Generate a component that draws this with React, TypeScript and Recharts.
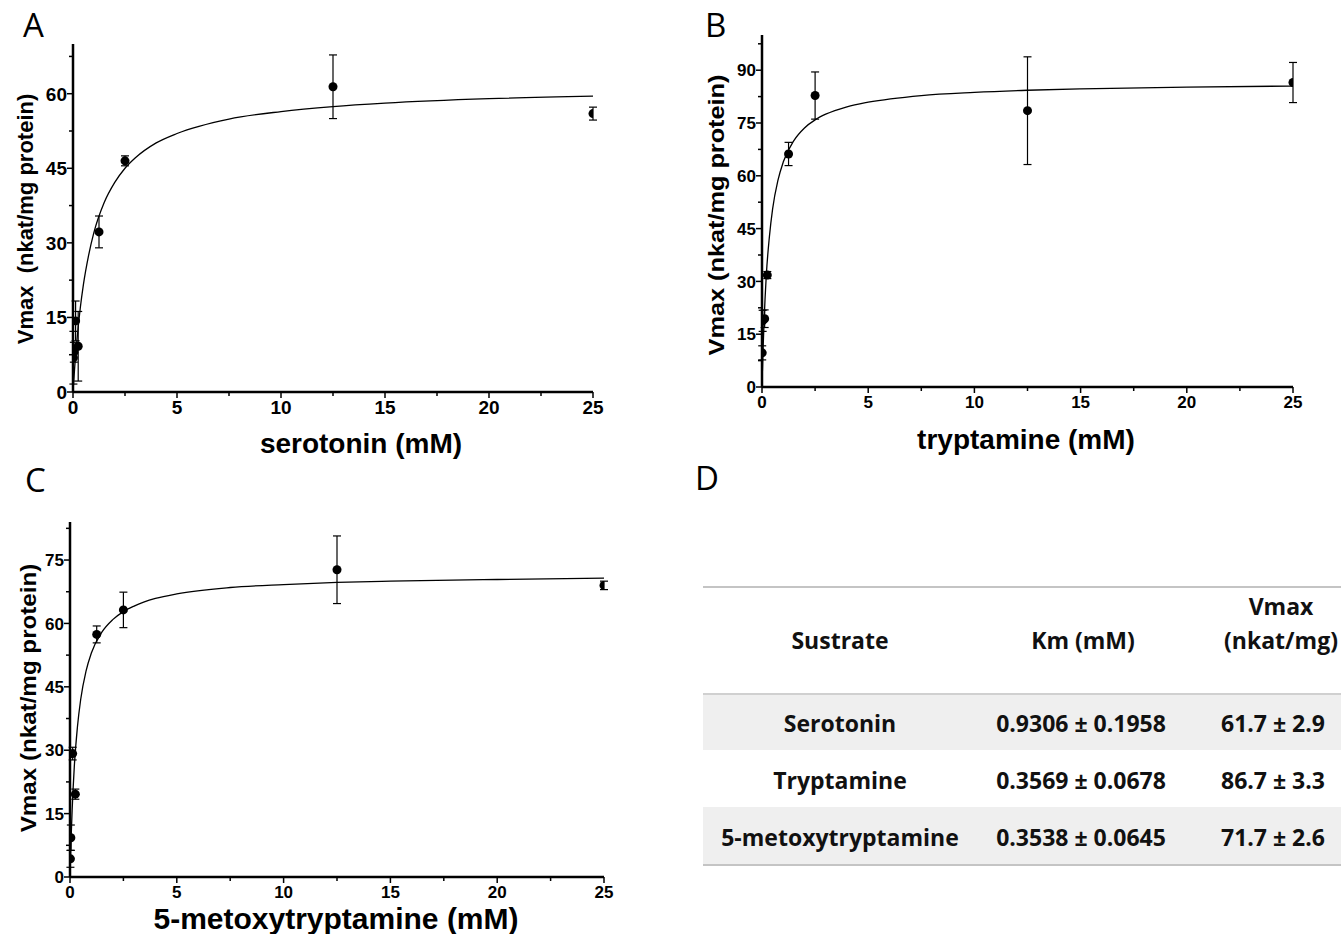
import React from "react";
import { ComposedChart, Scatter, Line, XAxis, YAxis, ErrorBar } from "recharts";

// measured points (mean and error)
const SER_X = [0.02, 0.04, 0.125, 0.25, 1.25, 2.5, 12.5, 25];
const SER_Y = [6.9, 8.0, 14.3, 9.2, 32.2, 46.5, 61.4, 56.0];
const SER_ERR = [5.3, 2.0, 4.0, 7.0, 3.2, 1.0, 6.4, 1.3];

const TRY_X = [0.01, 0.03, 0.125, 0.25, 1.25, 2.5, 12.5, 25];
const TRY_Y = [9.7, 18.8, 19.4, 31.8, 66.2, 82.8, 78.5, 86.5];
const TRY_ERR = [2.0, 3.0, 2.5, 1.0, 3.3, 6.7, 15.3, 5.7];

const MET_X = [0.02, 0.04, 0.125, 0.25, 1.25, 2.5, 12.5, 25];
const MET_Y = [4.3, 9.3, 29.2, 19.6, 57.4, 63.2, 72.7, 69.0];
const MET_ERR = [2.0, 3.0, 1.5, 1.2, 2.0, 4.2, 8.0, 1.0];

// fitted curves
const FIT_X = [0.02, 0.05, 0.1, 0.2, 0.35, 0.5, 0.75, 1, 1.5, 2, 2.5, 3, 4, 5, 7.5, 10, 12.5, 15, 20, 25];
const SER_FIT = [1.3, 3.1, 6.0, 10.9, 16.9, 21.6, 27.5, 32.0, 38.1, 42.1, 45.0, 47.1, 50.1, 52.0, 54.9, 56.4, 57.4, 58.1, 59.0, 59.5];
const TRY_FIT = [4.6, 10.7, 19.0, 31.5, 42.8, 50.6, 58.7, 63.9, 70.0, 73.6, 75.9, 77.5, 79.6, 80.9, 82.8, 83.7, 84.3, 84.7, 85.2, 85.5];
const MET_FIT = [3.8, 8.9, 15.8, 26.0, 35.6, 42.0, 48.7, 53.0, 58.0, 60.9, 62.8, 64.1, 65.9, 67.0, 68.5, 69.2, 69.7, 70.0, 70.4, 70.7];

const X_TICKS = [0, 2.5, 5, 7.5, 10, 12.5, 15, 17.5, 20, 22.5, 25];

const SUBSTRATES = ["Serotonin", "Tryptamine", "5-metoxytryptamine"];
const KM = ["0.9306 ± 0.1958", "0.3569 ± 0.0678", "0.3538 ± 0.0645"];
const VMAX = ["61.7 ± 2.9", "86.7 ± 3.3", "71.7 ± 2.6"];

const AX_FONT = "'Liberation Sans', Arial, sans-serif";
const TB_FONT = "'Open Sans', 'Noto Sans', sans-serif";

const toPoints = (xs: number[], ys: number[], errs: number[]) =>
  xs.map((x, i) => ({ x, y: ys[i], err: errs[i] }));
const toCurve = (xs: number[], ys: number[]) => xs.map((x, i) => ({ x, y: ys[i] }));

const Dot = (p: any) => <circle cx={p.cx} cy={p.cy} r={4.5} fill="#000" />;

type PanelProps = {
  left: number;
  top: number;
  width: number;
  height: number;
  margin: { top: number; right: number; left: number; bottom: number };
  yWidth: number;
  xHeight: number;
  yMax: number;
  yTicks: number[];
  fs: number;
  points: { x: number; y: number; err: number }[];
  curve: { x: number; y: number }[];
};

const Panel = (p: PanelProps) => {
  const xTick = (t: any) => {
    const v = t.payload.value;
    const major = v % 5 === 0;
    return (
      <g>
        <line x1={t.x} x2={t.x} y1={t.y} y2={t.y + (major ? 6 : 4)} stroke="#000" strokeWidth={1.5} />
        {major && (
          <text x={t.x} y={t.y + 7} dy="0.8em" textAnchor="middle" fontSize={p.fs} fontWeight="bold" fontFamily={AX_FONT} fill="#000">
            {v}
          </text>
        )}
      </g>
    );
  };
  const yTick = (t: any) => {
    const v = t.payload.value;
    const major = v % 15 === 0;
    return (
      <g>
        <line x1={t.x} x2={t.x - (major ? 6 : 4)} y1={t.y} y2={t.y} stroke="#000" strokeWidth={1.5} />
        {major && (
          <text x={t.x - 6} y={t.y} dy="0.36em" textAnchor="end" fontSize={p.fs} fontWeight="bold" fontFamily={AX_FONT} fill="#000">
            {v}
          </text>
        )}
      </g>
    );
  };
  return (
    <div style={{ position: "absolute", left: p.left, top: p.top }}>
      <ComposedChart width={p.width} height={p.height} margin={p.margin}>
        <XAxis
          type="number"
          dataKey="x"
          domain={[0, 25]}
          ticks={X_TICKS}
          interval={0}
          allowDataOverflow
          height={p.xHeight}
          tickSize={0}
          tickMargin={0}
          tickLine={false}
          axisLine={{ stroke: "#000", strokeWidth: 2.5 }}
          tick={xTick}
        />
        <YAxis
          type="number"
          domain={[0, p.yMax]}
          ticks={p.yTicks}
          interval={0}
          allowDataOverflow
          width={p.yWidth}
          tickSize={0}
          tickMargin={0}
          tickLine={false}
          axisLine={{ stroke: "#000", strokeWidth: 2.5 }}
          tick={yTick}
        />
        <Line
          data={p.curve}
          dataKey="y"
          type="monotone"
          stroke="#000"
          strokeWidth={1.3}
          dot={false}
          activeDot={false}
          isAnimationActive={false}
        />
        <Scatter data={p.points} dataKey="y" shape={Dot} isAnimationActive={false}>
          <ErrorBar dataKey="err" direction="y" width={4} stroke="#000" strokeWidth={1.2} />
        </Scatter>
      </ComposedChart>
    </div>
  );
};

const range = (step: number, max: number) => {
  const out: number[] = [];
  for (let i = 0; i * step <= max + 1e-9; i++) out.push(i * step);
  return out;
};

export default function App() {
  const titleStyle = { fontFamily: AX_FONT, fontWeight: "bold" as const, fill: "#000" };
  const letterStyle = { fontFamily: TB_FONT, fontSize: 33, fill: "#000" };
  const rowTops = [107, 164, 221];
  return (
    <div style={{ position: "absolute", left: 0, top: 0, width: 1341, height: 934, background: "#fff", overflow: "hidden" }}>
      <Panel
        left={0}
        top={0}
        width={640}
        height={440}
        margin={{ top: 44, right: 47, left: 0, bottom: 0 }}
        yWidth={73}
        xHeight={48}
        yMax={70}
        yTicks={range(7.5, 67.5)}
        fs={19}
        points={toPoints(SER_X, SER_Y, SER_ERR)}
        curve={toCurve(FIT_X, SER_FIT)}
      />
      <Panel
        left={690}
        top={0}
        width={640}
        height={440}
        margin={{ top: 35, right: 37, left: 0, bottom: 0 }}
        yWidth={72}
        xHeight={53}
        yMax={100}
        yTicks={range(7.5, 97.5)}
        fs={17}
        points={toPoints(TRY_X, TRY_Y, TRY_ERR)}
        curve={toCurve(FIT_X, TRY_FIT)}
      />
      <Panel
        left={0}
        top={470}
        width={640}
        height={440}
        margin={{ top: 52, right: 36, left: 0, bottom: 0 }}
        yWidth={70}
        xHeight={33}
        yMax={84}
        yTicks={range(7.5, 82.5)}
        fs={17}
        points={toPoints(MET_X, MET_Y, MET_ERR)}
        curve={toCurve(FIT_X, MET_FIT)}
      />

      {/* table D */}
      <div style={{ position: "absolute", left: 703, top: 586, width: 638, height: 279, fontFamily: TB_FONT, fontWeight: 700, fontSize: 23, color: "#111" }}>
        <div style={{ position: "absolute", left: 0, top: 0, width: 638, borderTop: "2px solid #c4c4c4" }} />
        {rowTops.map((t, i) => (
          <div key={i} style={{ position: "absolute", left: 0, top: t, width: 638, height: 57, background: i % 2 === 0 ? "#efefef" : "#fff", borderTop: i === 0 ? "2px solid #d0d0d0" : "none" }} />
        ))}
        <div style={{ position: "absolute", left: 0, top: 278, width: 638, borderTop: "2px solid #c4c4c4" }} />
        <div style={{ position: "absolute", left: 137, top: 54, transform: "translate(-50%,-50%)", whiteSpace: "nowrap" }}>Sustrate</div>
        <div style={{ position: "absolute", left: 380, top: 54, transform: "translate(-50%,-50%)", whiteSpace: "nowrap" }}>Km (mM)</div>
        <div style={{ position: "absolute", left: 578, top: 37, transform: "translate(-50%,-50%)", textAlign: "center", lineHeight: "34px", whiteSpace: "nowrap" }}>
          Vmax
          <br />
          (nkat/mg)
        </div>
        {SUBSTRATES.map((s, i) => (
          <React.Fragment key={s}>
            <div style={{ position: "absolute", left: 137, top: rowTops[i] + 30, transform: "translate(-50%,-50%)", whiteSpace: "nowrap" }}>{s}</div>
            <div style={{ position: "absolute", left: 378, top: rowTops[i] + 30, transform: "translate(-50%,-50%)", whiteSpace: "nowrap" }}>{KM[i]}</div>
            <div style={{ position: "absolute", left: 570, top: rowTops[i] + 30, transform: "translate(-50%,-50%)", whiteSpace: "nowrap" }}>{VMAX[i]}</div>
          </React.Fragment>
        ))}
      </div>

      {/* panel letters and axis titles */}
      <svg width={1341} height={934} style={{ position: "absolute", left: 0, top: 0, pointerEvents: "none" }}>
        <text x={23} y={37} {...letterStyle}>A</text>
        <text x={705} y={37} {...letterStyle}>B</text>
        <text x={25} y={492} {...letterStyle}>C</text>
        <text x={695} y={490} {...letterStyle}>D</text>

        <text x={361} y={453} textAnchor="middle" fontSize={28} {...titleStyle}>serotonin (mM)</text>
        <text x={1026} y={449} textAnchor="middle" fontSize={28} {...titleStyle}>tryptamine (mM)</text>
        <text x={336} y={929} textAnchor="middle" fontSize={30} {...titleStyle}>5-metoxytryptamine (mM)</text>

        <text transform="translate(25,219) rotate(-90)" textAnchor="middle" dy="0.35em" fontSize={22} {...titleStyle}>
          {"Vmax\u00a0 (nkat/mg protein)"}
        </text>
        <text transform="translate(716,215) rotate(-90) scale(1.15,1)" textAnchor="middle" dy="0.35em" fontSize={22} {...titleStyle}>
          Vmax (nkat/mg protein)
        </text>
        <text transform="translate(28,698) rotate(-90) scale(1.1,1)" textAnchor="middle" dy="0.35em" fontSize={22} {...titleStyle}>
          Vmax (nkat/mg protein)
        </text>
      </svg>
    </div>
  );
}
